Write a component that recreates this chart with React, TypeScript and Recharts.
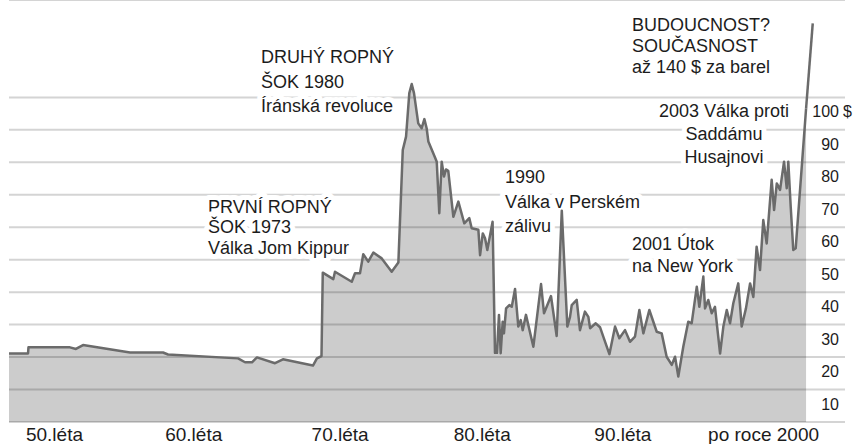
import React from 'react';
import { ComposedChart, Area, Line, XAxis, YAxis, CartesianGrid } from 'recharts';

const years = [
  1952.0, 1953.34, 1953.37, 1956.29, 1956.71, 1957.21, 1960.52, 1962.84, 1963.19, 1968.12,
  1968.61, 1969.1, 1969.45, 1970.72, 1971.28, 1973.39, 1973.67, 1973.99, 1974.08, 1974.82,
  1974.94, 1976.12, 1976.35, 1976.7, 1976.93, 1977.28, 1977.64, 1978.23, 1978.93, 1979.4,
  1979.71, 1979.94, 1980.17, 1980.34, 1980.5, 1980.8, 1981.04, 1981.23, 1981.39, 1981.51,
  1981.98, 1982.1, 1982.28, 1982.45, 1982.61, 1982.75, 1982.91, 1983.27, 1983.62, 1984.04,
  1984.39, 1984.56, 1985.03, 1985.15, 1985.34, 1985.5, 1985.66, 1986.03, 1986.2, 1986.34,
  1986.48, 1986.6, 1986.74, 1986.83, 1986.98, 1987.21, 1987.38, 1987.61, 1987.84, 1988.01,
  1988.15, 1988.38, 1988.9, 1989.44, 1989.65, 1990.14, 1990.54, 1990.9, 1991.29, 1991.48,
  1991.6, 1991.95, 1992.18, 1992.53, 1992.77, 1992.89, 1993.29, 1993.59, 1993.82, 1994.25,
  1994.65, 1994.95, 1995.35, 1995.7, 1996.05, 1996.36, 1996.64, 1997.06, 1997.58, 1997.93,
  1998.28, 1998.64, 1998.87, 1999.1, 1999.45, 1999.8, 2000.04, 2000.4, 2000.58, 2000.86,
  2000.98, 2001.21, 2001.45, 2001.68, 2002.04, 2002.27, 2002.51, 2002.74, 2002.97, 2003.32,
  2003.56, 2003.86, 2004.15, 2004.38, 2004.61, 2004.85, 2005.08, 2005.32, 2005.67, 2005.84,
  2006.03, 2006.26, 2006.54, 2006.73, 2006.84, 2007.01, 2007.19, 2007.36, 2008.09,
];
const prices = [
  21.1, 21.1, 23.0, 23.0, 22.5, 23.7, 21.4, 21.4, 20.8, 19.6,
  18.4, 18.4, 19.9, 18.1, 19.3, 17.4, 19.6, 20.3, 46.0, 44.0,
  46.3, 43.2, 45.8, 45.8, 51.7, 49.4, 52.2, 50.4, 46.3, 49.1,
  83.8, 87.9, 101.3, 104.1, 101.3, 92.0, 90.5, 93.3, 90.5, 86.4,
  81.5, 80.2, 64.3, 80.2, 75.6, 77.8, 77.4, 63.2, 67.9, 61.2,
  62.8, 59.7, 59.2, 51.4, 58.1, 56.6, 53.0, 61.7, 21.3, 21.3,
  33.0, 21.2, 30.9, 27.3, 35.0, 36.0, 35.5, 41.0, 29.4, 31.4,
  28.3, 33.0, 23.2, 42.5, 33.5, 38.8, 26.5, 65.1, 29.4, 32.4,
  36.0, 37.6, 28.3, 34.0, 32.4, 28.9, 30.4, 29.2, 26.3, 20.9,
  29.4, 25.8, 28.3, 24.7, 26.3, 34.5, 27.3, 34.5, 27.8, 27.3,
  20.1, 17.6, 20.1, 14.0, 23.2, 30.9, 30.4, 41.7, 35.5, 44.8,
  35.0, 37.6, 33.5, 35.5, 21.1, 29.4, 34.5, 30.4, 36.6, 42.7,
  29.4, 35.0, 42.7, 38.5, 54.0, 46.8, 62.2, 55.0, 74.6, 65.3,
  73.5, 71.5, 80.2, 72.0, 80.2, 66.3, 53.0, 53.5, 96.5,
];

// projection up to 140 $
const futureYears = [2008.09, 2008.56];
const futureValues = [96.5, 122.8];

const decadeTicks = [1955.2, 1965.0, 1975.3, 1985.3, 1995.2, 2005.1];
const decadeLabels = ['50.léta', '60.léta', '70.léta', '80.léta', '90.léta', 'po roce 2000'];
const priceTicks = [10, 20, 30, 40, 50, 60, 70, 80, 90, 100];

const historyData = years.map((year, i) => ({ year, price: prices[i] }));
const futureData = futureYears.map((year, i) => ({ year, price: futureValues[i] }));

const annotations = [
  { x: 261, y: 63, step: 24.5, anchor: 'start', lines: ['DRUHÝ ROPNÝ', 'ŠOK 1980', 'Íránská revoluce'] },
  { x: 208, y: 213, step: 20.3, anchor: 'start', lines: ['PRVNÍ ROPNÝ', 'ŠOK 1973', 'Válka Jom Kippur'] },
  { x: 505, y: 183, step: 24.5, anchor: 'start', lines: ['1990', 'Válka v Perském', 'zálivu'] },
  { x: 632, y: 31, step: 21, anchor: 'start', lines: ['BUDOUCNOST?', 'SOUČASNOST', 'až 140 $ za barel'] },
  { x: 724, y: 117, step: 23, anchor: 'middle', lines: ['2003 Válka proti', 'Saddámu', 'Husajnovi'] },
  { x: 632, y: 250, step: 22, anchor: 'start', lines: ['2001 Útok', 'na New York'] },
];

const W = 853;
const H = 444;
const FONT = "'Liberation Sans', Arial, Helvetica, sans-serif";
const INK = '#1c1c1c';
const LINE = '#6b6b6b';
const margin = { top: 0, right: 0, bottom: 0, left: 9 };
const xDomain = [1952, 2010.83];
const yDomain = [0, 130];

const layer: React.CSSProperties = { position: 'absolute', left: 0, top: 0, width: W, height: H };

const XTick = (props: any) => {
  const { x, payload } = props;
  const i = decadeTicks.indexOf(payload.value);
  return (
    <text x={x} y={441} textAnchor="middle" fontSize={19} fontFamily={FONT} fill={INK}>
      {decadeLabels[i]}
    </text>
  );
};

const YTick = (props: any) => {
  const { y, payload } = props;
  return (
    <g>
      <text x={839} y={y + 20} textAnchor="end" fontSize={16} fontFamily={FONT} fill={INK}>
        {payload.value}
      </text>
      {payload.value === 100 && (
        <text x={843} y={y + 20} fontSize={16} fontFamily={FONT} fill={INK}>$</text>
      )}
    </g>
  );
};

const NoTick = () => <g />;

export default function App() {
  return (
    <div style={layer}>
      {/* grid layer */}
      <div style={layer}>
        <ComposedChart width={W} height={H} margin={margin}>
          <CartesianGrid vertical={false} stroke="#d4d4d4" strokeWidth={2} />
          <XAxis
            type="number"
            dataKey="year"
            domain={xDomain}
            allowDataOverflow
            ticks={decadeTicks}
            height={22}
            tick={<NoTick />}
            axisLine={false}
            tickLine={false}
          />
          <YAxis
            orientation="right"
            type="number"
            domain={yDomain}
            allowDataOverflow
            ticks={priceTicks}
            width={8}
            tick={<NoTick />}
            axisLine={false}
            tickLine={false}
          />
          <Line data={historyData} dataKey="price" stroke="none" dot={false} isAnimationActive={false} />
        </ComposedChart>
      </div>

      {/* annotation layer, white halo hides the grid behind the words */}
      <svg style={layer} width={W} height={H}>
        {annotations.map((a, k) => (
          <g key={k}>
            {a.lines.map((t, j) => (
              <text
                key={j}
                x={a.x}
                y={a.y + j * a.step}
                textAnchor={a.anchor as any}
                fontSize={18}
                fontFamily={FONT}
                fill={INK}
                stroke="#fff"
                strokeWidth={10}
                strokeLinejoin="round"
                paintOrder="stroke"
              >
                {t}
              </text>
            ))}
          </g>
        ))}
      </svg>

      {/* data layer */}
      <div style={layer}>
        <ComposedChart width={W} height={H} margin={margin}>
          <XAxis
            type="number"
            dataKey="year"
            domain={xDomain}
            allowDataOverflow
            ticks={decadeTicks}
            height={22}
            tick={<XTick />}
            axisLine={false}
            tickLine={false}
            tickSize={0}
          />
          <YAxis
            orientation="right"
            type="number"
            domain={yDomain}
            allowDataOverflow
            ticks={priceTicks}
            width={8}
            tick={<YTick />}
            axisLine={false}
            tickLine={false}
            tickSize={0}
          />
          <Area
            data={historyData}
            type="linear"
            dataKey="price"
            stroke={LINE}
            strokeWidth={2.5}
            fill="#000"
            fillOpacity={0.2}
            strokeLinejoin="round"
            isAnimationActive={false}
          />
          <Line
            data={futureData}
            type="linear"
            dataKey="price"
            stroke={LINE}
            strokeWidth={2.5}
            dot={false}
            isAnimationActive={false}
          />
        </ComposedChart>
      </div>
    </div>
  );
}
